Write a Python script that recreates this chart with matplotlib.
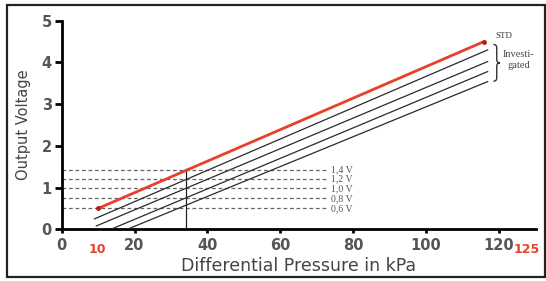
import matplotlib
matplotlib.use("Agg")
import matplotlib.pyplot as plt
from matplotlib.patches import Rectangle, PathPatch
from matplotlib.path import Path

# ---- data ----
std_x = [10, 116]
std_y = [0.5, 4.5]

inv_start_x = [9.0, 9.5, 13.5, 18.0]
inv_start_y = [0.25, 0.08, 0.0, 0.0]
inv_end_x = [117.0, 117.0, 117.0, 117.0]
inv_end_y = [4.3, 4.02, 3.78, 3.54]

ref_levels = [1.42, 1.2, 0.98, 0.74, 0.5]
ref_labels = ["1,4 V", "1,2 V", "1,0 V", "0,8 V", "0,6 V"]
ref_x_end = 72.5
vline_x = 34.2
vline_top = 1.45

x_ticks = [0, 20, 40, 60, 80, 100, 120]
y_ticks = [0, 1, 2, 3, 4, 5]
red_marks = ["10", "125"]
red_mark_x = [9.8, 127.8]

RED = "#e8402a"
GRAY = "#444444"
TICKGRAY = "#555555"

fig = plt.figure(figsize=(5.46, 2.81), dpi=100)
fig.patches.append(Rectangle((7/546, 1 - 277/281), (545-7)/546, (277-5)/281,
                             transform=fig.transFigure, fill=False,
                             edgecolor="#222222", linewidth=1.6))
ax = fig.add_axes([61.7/546, 51.7/281, (535.7-61.7)/546, (229.3-20.7)/281])
ax.set_xlim(0, 130.2)
ax.set_ylim(0, 5)

for s in ["top", "right"]:
    ax.spines[s].set_visible(False)
for s in ["left", "bottom"]:
    ax.spines[s].set_linewidth(2.0)
    ax.spines[s].set_color("black")

ax.set_xticks(x_ticks)
ax.set_yticks(y_ticks)
ax.tick_params(axis="both", direction="out", width=2, colors="black",
               labelcolor=TICKGRAY, labelsize=10.5)
ax.tick_params(axis="x", length=3, pad=3)
ax.tick_params(axis="y", length=5, pad=2)
for lab in ax.get_xticklabels() + ax.get_yticklabels():
    lab.set_fontfamily("DejaVu Sans")
    lab.set_fontweight("bold")

# dashed reference levels
for lv in ref_levels:
    ax.plot([0, ref_x_end], [lv, lv], linestyle=(0, (3, 2.2)), color="#666666",
            linewidth=0.9, zorder=1)
for lv, lab in zip(ref_levels, ref_labels):
    ax.text(ref_x_end + 1.5, lv, lab, fontsize=7, family="Liberation Serif",
            color="#555555", va="center", ha="left")

# vertical line
ax.plot([vline_x, vline_x], [0, vline_top], color="#222222", linewidth=0.9, zorder=2)

# investigated lines
for sx, sy, ex, ey in zip(inv_start_x, inv_start_y, inv_end_x, inv_end_y):
    ax.plot([sx, ex], [sy, ey], color="#2a2a2a", linewidth=0.9, zorder=3)

# STD line
ax.plot(std_x, std_y, color=RED, linewidth=2.0, zorder=4, solid_capstyle="round")
ax.plot([std_x[0], std_x[1]], [std_y[0], std_y[1]], linestyle="none", marker="o",
        markersize=2.5, color="#b02010", zorder=5)

ax.text(119, 4.63, "STD", fontsize=6.5, family="Liberation Serif", color="#333333",
        va="center", ha="left")

# curly brace grouping the investigated lines
bx0, bw, by0, by1 = 118.6, 1.8, 3.55, 4.43
bym = (by0 + by1) / 2
bxm = bx0 + bw / 2
dy = 0.08
verts = [(bx0, by1), (bxm, by1), (bxm, by1 - dy),
         (bxm, bym + dy), (bxm, bym), (bx0 + bw, bym),
         (bxm, bym), (bxm, bym - dy),
         (bxm, by0 + dy), (bxm, by0), (bx0, by0)]
codes = [Path.MOVETO, Path.CURVE3, Path.CURVE3,
         Path.LINETO, Path.CURVE3, Path.CURVE3,
         Path.CURVE3, Path.CURVE3,
         Path.LINETO, Path.CURVE3, Path.CURVE3]
ax.add_patch(PathPatch(Path(verts, codes), fill=False, edgecolor="#333333",
                       linewidth=1.0, clip_on=False))
ax.text(125.6, 4.05, "Investi-\ngated", fontsize=7.5, family="Liberation Serif",
        color="#444444", va="center", ha="center", linespacing=1.3)

# red annotations below axis
for xv, lab in zip(red_mark_x, red_marks):
    ax.text(xv, -0.48, lab, fontsize=9, family="DejaVu Sans", fontweight="bold",
            color=RED, va="center", ha="center", clip_on=False)

ax.set_xlabel("Differential Pressure in kPa", fontsize=12.5, family="DejaVu Sans",
              color=GRAY, labelpad=3)
ax.set_ylabel("Output Voltage", fontsize=10.5, family="DejaVu Sans", color=GRAY,
              labelpad=8)

fig.savefig("out.png", dpi=100)
